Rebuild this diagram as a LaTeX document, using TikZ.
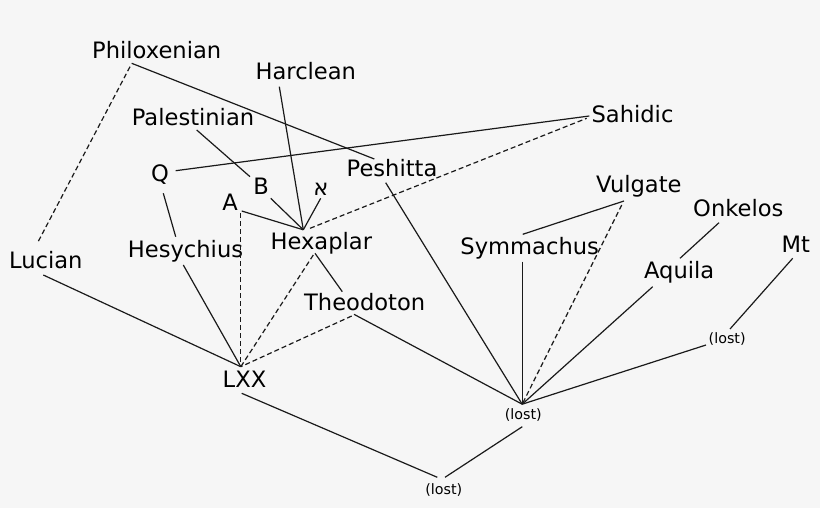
\documentclass[tikz,border=0pt]{standalone}
\usepackage{fontspec}
\setmainfont{DejaVu Sans}
\definecolor{bg}{HTML}{F6F6F6}
\definecolor{ink}{HTML}{1A1A1A}
\begin{document}
\begin{tikzpicture}[x=1pt,y=-1pt,
  lbl/.style={anchor=base,inner sep=0pt,text=black,font=\fontsize{22.6}{27}\selectfont},
  lost/.style={anchor=base,inner sep=0pt,text=black,font=\fontsize{14.3}{17}\selectfont},
  link/.style={line width=1.2pt,draw=ink},
  dlink/.style={link,dash pattern=on 5pt off 3pt}]
\fill[bg] (0,0) rectangle (820,508);
\useasboundingbox (0,0) rectangle (820,508);
% text nodes
\node[lbl] (phil) at (156.7,58.5) {Philoxenian};
\node[lbl] (harc) at (305.8,80) {Harclean};
\node[lbl] (pal) at (193,126) {Palestinian};
\node[lbl] (sah) at (632.5,123) {Sahidic};
\node[lbl] (q) at (160,182) {Q};
\node[lbl] (pesh) at (392,176.5) {Peshitta};
\node[lbl] (b) at (261,195) {B};
\node[lbl] (alef) at (321,196) {א};
\node[lbl] (a) at (230,211) {A};
\node[lbl] (vulg) at (638.8,193) {Vulgate};
\node[lbl] (onk) at (738.3,216.5) {Onkelos};
\node[lbl] (hex) at (321.3,250) {Hexaplar};
\node[lbl] (hes) at (185.5,257) {Hesychius};
\node[lbl] (luc) at (45.8,268) {Lucian};
\node[lbl] (sym) at (529.7,254.5) {Symmachus};
\node[lbl] (mt) at (795.8,252.5) {Mt};
\node[lbl] (aq) at (679.2,278.5) {Aquila};
\node[lbl] (theo) at (364.7,310.5) {Theodoton};
\node[lbl] (lxx) at (244.5,387) {LXX};
\node[lost] (lostR) at (727.2,343.5) {(lost)};
\node[lost] (lostM) at (523.3,419.8) {(lost)};
\node[lost] (lostB) at (443.8,494) {(lost)};
% junction points
\coordinate (lxxT) at (240.8,366.7);
\coordinate (hexT) at (303.3,229.8);
\coordinate (lostMT) at (522.2,404.2);
% connector ends
\coordinate (philR) at (131.7,63.3);
\coordinate (philL) at (130,66.7);
\coordinate (peshL) at (374.3,159);
\coordinate (peshB) at (385.7,182.7);
\coordinate (lucT) at (37.3,243.3);
\coordinate (lucB) at (43.3,275);
\coordinate (harcB) at (279.3,86.7);
\coordinate (palB) at (196.7,130);
\coordinate (bT) at (250,176.7);
\coordinate (bB) at (270.7,198.3);
\coordinate (alefB) at (320.7,198.3);
\coordinate (aR) at (241.7,211);
\coordinate (aB) at (240.8,213.3);
\coordinate (qR) at (175.7,170.7);
\coordinate (qB) at (163.3,193.3);
\coordinate (sahL) at (589.3,116);
\coordinate (sahLd) at (586.7,118.3);
\coordinate (hexTR) at (310,228.3);
\coordinate (hesT) at (175.7,236.7);
\coordinate (hesB) at (183.3,265);
\coordinate (hexBd) at (313.3,255);
\coordinate (hexB) at (315,253.3);
\coordinate (theoT) at (342.3,291.7);
\coordinate (theoBd) at (351.7,316);
\coordinate (theoB) at (354,314.3);
\coordinate (vulgB) at (624,201);
\coordinate (vulgBd) at (621.7,205);
\coordinate (symT) at (522.7,234.3);
\coordinate (symB) at (522.2,261.7);
\coordinate (onkB) at (719,222.7);
\coordinate (aqT) at (680,258.3);
\coordinate (aqB) at (652.7,286.7);
\coordinate (mtB) at (792.7,258.3);
\coordinate (lostRT) at (730,329);
\coordinate (lostRL) at (706,345);
\coordinate (lxxB) at (241.7,393.3);
\coordinate (lostMB) at (522.3,426.7);
\coordinate (lostBL) at (437.3,477.3);
\coordinate (lostBR) at (445,477.3);
% solid connectors
\draw[link] (philR) -- (peshL);
\draw[link] (harcB) -- (hexT);
\draw[link] (palB) -- (bT);
\draw[link] (qR) -- (sahL);
\draw[link] (bB) -- (hexT);
\draw[link] (alefB) -- (hexT);
\draw[link] (aR) -- (hexT);
\draw[link] (qB) -- (hesT);
\draw[link] (hesB) -- (lxxT);
\draw[link] (lucB) -- (lxxT);
\draw[link] (hexB) -- (theoT);
\draw[link] (theoB) -- (lostMT);
\draw[link] (peshB) -- (lostMT);
\draw[link] (symB) -- (lostMT);
\draw[link] (vulgB) -- (symT);
\draw[link] (onkB) -- (aqT);
\draw[link] (aqB) -- (lostMT);
\draw[link] (mtB) -- (lostRT);
\draw[link] (lostRL) -- (lostMT);
\draw[link] (lxxB) -- (lostBL);
\draw[link] (lostMB) -- (lostBR);
% dashed connectors
\draw[dlink] (philL) -- (lucT);
\draw[dlink] (aB) -- (lxxT);
\draw[dlink] (hexTR) -- (sahLd);
\draw[dlink] (hexBd) -- (lxxT);
\draw[dlink] (theoBd) -- (lxxT);
\draw[dlink] (vulgBd) -- (lostMT);
\end{tikzpicture}
\end{document}
